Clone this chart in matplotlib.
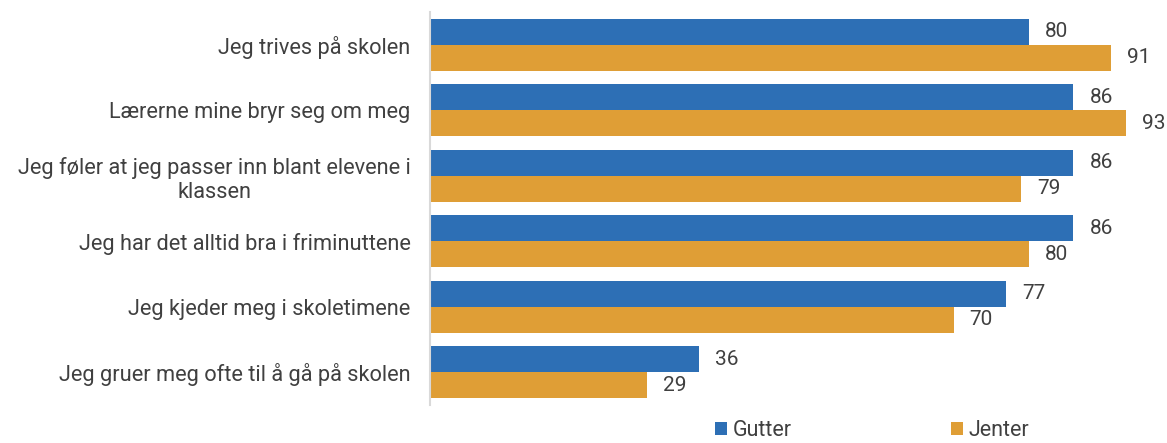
import matplotlib
matplotlib.use("Agg")
import matplotlib.pyplot as plt
import numpy as np

plt.rcParams['font.family'] = ['Roboto', 'DejaVu Sans']

categories = [
    "Jeg trives på skolen",
    "Lærerne mine bryr seg om meg",
    "Jeg føler at jeg passer inn blant elevene i\nklassen",
    "Jeg har det alltid bra i friminuttene",
    "Jeg kjeder meg i skoletimene",
    "Jeg gruer meg ofte til å gå på skolen",
]
gutter = [80, 86, 86, 86, 77, 36]
jenter = [91, 93, 79, 80, 70, 29]
series_names = ["Gutter", "Jenter"]

blue = "#2D6FB5"
orange = "#DF9E36"
text_color = "#404040"

fig = plt.figure(figsize=(11.67, 4.43), dpi=100)
ax = fig.add_axes([430/1167, 1-405/443, 737/1167, 393/443])

y = np.arange(len(categories))
h = 0.397
b1 = ax.barh(y - h/2, gutter, height=h, color=blue, label=series_names[0])
b2 = ax.barh(y + h/2, jenter, height=h, color=orange, label=series_names[1])

for bars, vals in ((b1, gutter), (b2, jenter)):
    for bar, v in zip(bars, vals):
        ax.annotate(f"{v}", (bar.get_width(), bar.get_y() + bar.get_height()/2),
                    xytext=(11.5, 0), textcoords="offset points",
                    ha="left", va="center", fontsize=15, color=text_color)

ax.set_xlim(0, 98.5)
ax.set_ylim(5.5, -0.5)
ax.set_yticks(y)
ax.set_yticklabels(categories, fontsize=15.7, color=text_color, multialignment="center")
ax.tick_params(axis="y", length=0, pad=14)
ax.set_xticks([])
for s in ["top", "right", "bottom"]:
    ax.spines[s].set_visible(False)
ax.spines["left"].set_color("#d9d9d9")
ax.spines["left"].set_linewidth(1.5)

leg = fig.legend(handles=[b1, b2], labels=series_names, loc="center",
                 bbox_to_anchor=(872/1167, 1-431/443), ncol=2, frameon=False,
                 fontsize=15.5, handlelength=0.55, handleheight=0.55, handletextpad=0.25,
                 columnspacing=7.4, labelcolor=text_color, borderpad=0.1)

fig.savefig("out.png", dpi=100)
